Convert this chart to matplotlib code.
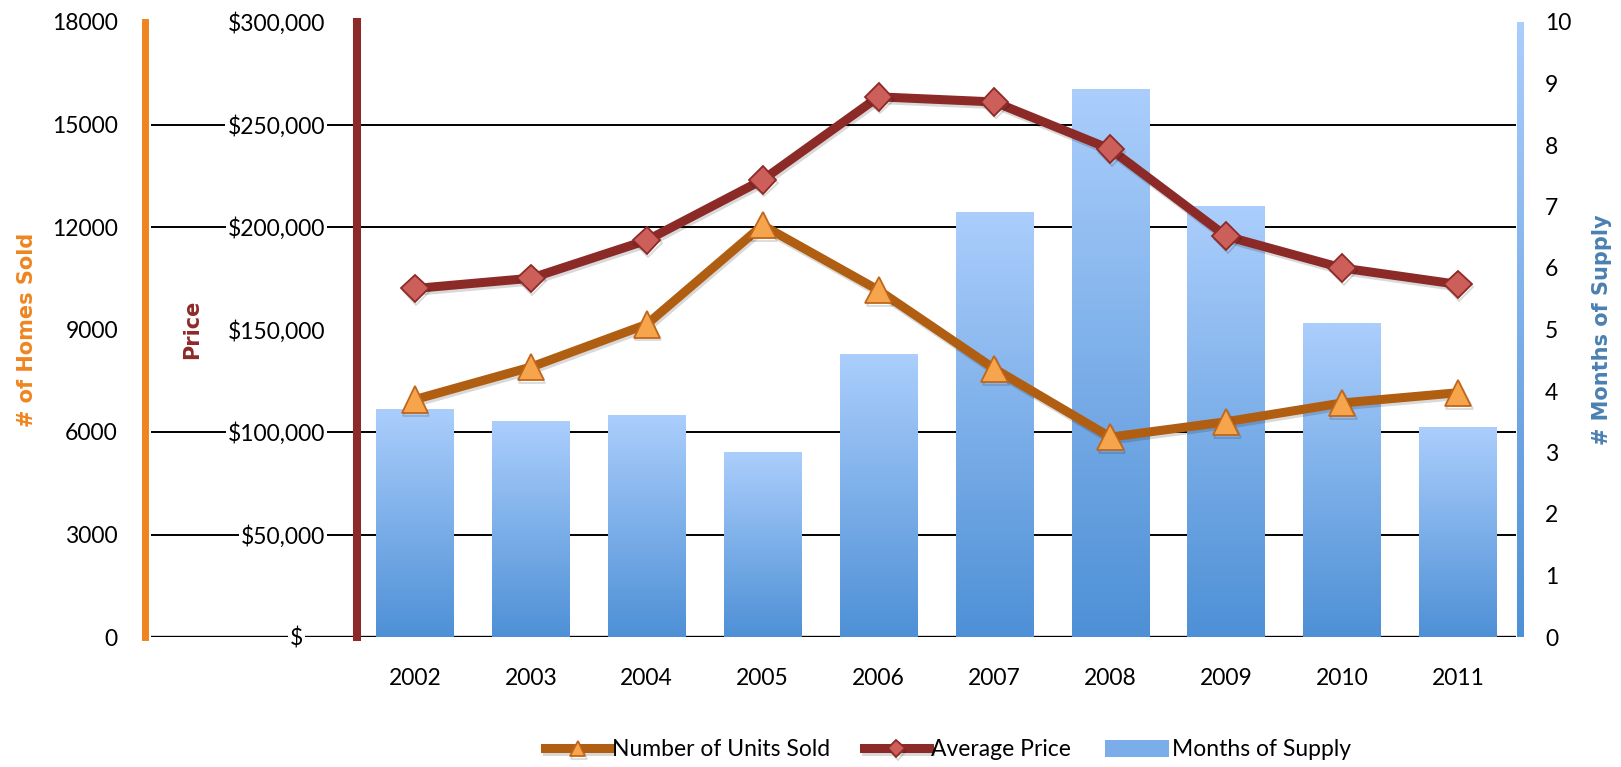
import matplotlib
matplotlib.use("Agg")
import matplotlib.pyplot as plt
import matplotlib.patheffects as pe
import numpy as np
from matplotlib.colors import LinearSegmentedColormap

plt.rcParams['font.family'] = ['Lato', 'DejaVu Sans']

years = ['2002', '2003', '2004', '2005', '2006', '2007', '2008', '2009', '2010', '2011']
units_sold = [6950, 7900, 9150, 12050, 10150, 7850, 5850, 6300, 6850, 7150]
avg_price = [170000, 175000, 193500, 223000, 263500, 261000, 238000, 195500, 180000, 172000]
months_supply = [3.7, 3.5, 3.6, 3.0, 4.6, 6.9, 8.9, 7.0, 5.1, 3.4]

units_ticks = np.arange(0, 18001, 3000)
price_ticks = np.arange(0, 300001, 50000)
price_labels = ['$'] + ['${:,}'.format(v) for v in price_ticks[1:]]
supply_ticks = np.arange(0, 11)

ORANGE = '#ef8520'
UNITS_LINE = '#b05e12'
DARK_RED = '#8c2a28'
BLUE_LABEL = '#4a80b2'
FS = 16.5
LABEL_FONT = dict(family='DejaVu Sans', fontweight='bold', fontsize=15)

fig = plt.figure(figsize=(16.21, 7.67), dpi=100)
ax_sup = fig.add_axes([151 / 1621, 130 / 767, 1365 / 1621, 615 / 767])
ax_units = ax_sup.twinx()
ax_price = ax_sup.twinx()

x = np.arange(len(years))
shadow = [pe.SimpleLineShadow(offset=(1, -2), shadow_color='black', alpha=0.15), pe.Normal()]

# months of supply: bars with a vertical gradient
supply_cmap = LinearSegmentedColormap.from_list('supply', ['#4e90d6', '#abcefc'])
grad = np.linspace(0, 1, 256).reshape(-1, 1)
bars = ax_sup.bar(x, months_supply, width=0.67, color='#7badeb', zorder=1,
                  label='Months of Supply')
for bar in bars:
    x0, w, h = bar.get_x(), bar.get_width(), bar.get_height()
    ax_sup.imshow(grad, extent=(x0, x0 + w, 0, h), origin='lower', aspect='auto',
                  cmap=supply_cmap, zorder=2)

# right axis bar drawn as a gradient strip
ax_sup.imshow(grad, extent=(1.0008, 1.0058, 0, 1), transform=ax_sup.transAxes,
              origin='lower', aspect='auto', cmap=supply_cmap, clip_on=False, zorder=3)

ax_sup.set_xlim(-2.277, 9.5)
ax_sup.set_ylim(0, 10)
ax_sup.yaxis.tick_right()
ax_sup.yaxis.set_label_position('right')
ax_sup.set_yticks(supply_ticks)
ax_sup.set_yticks(units_ticks / units_ticks[-1] * 10, minor=True)
ax_sup.grid(which='minor', axis='y', color='#000000', linewidth=1.4)
ax_sup.axhline(0, color='#000000', linewidth=2.4, zorder=0.6)
ax_sup.set_axisbelow(True)
ax_sup.tick_params(axis='y', which='both', length=0, pad=21, labelsize=FS)
ax_sup.set_xticks(x, years)
ax_sup.tick_params(axis='x', length=0, pad=22, labelsize=FS)
ax_sup.set_ylabel('# Months of Supply', color=BLUE_LABEL, va='center', **LABEL_FONT)
ax_sup.yaxis.set_label_coords((1602 - 151) / 1365, 0.5)

# number of units sold
ln_units, = ax_units.plot(x, units_sold, color=UNITS_LINE, linewidth=6.5, marker='^',
                          markersize=19, markerfacecolor='#f7a54c',
                          markeredgecolor='#c0661a', markeredgewidth=1.3,
                          label='Number of Units Sold', path_effects=shadow, zorder=3)
ax_units.set_ylim(0, 18000)
ax_units.yaxis.tick_left()
ax_units.yaxis.set_label_position('left')
ax_units.set_yticks(units_ticks)
ax_units.spines['left'].set_position(('outward', 4))
ax_units.spines['left'].set_color(ORANGE)
ax_units.spines['left'].set_linewidth(5)
ax_units.tick_params(axis='y', length=0, pad=19.8, labelsize=FS)
ax_units.set_ylabel('# of Homes Sold', color=ORANGE, va='center', **LABEL_FONT)
ax_units.yaxis.set_label_coords((27 - 151) / 1365, 0.5)

# average price
ln_price, = ax_price.plot(x, avg_price, color=DARK_RED, linewidth=6.5, marker='D',
                          markersize=14, markerfacecolor='#cd5f5a',
                          markeredgecolor=DARK_RED, markeredgewidth=1.3,
                          label='Average Price', path_effects=shadow, zorder=3)
ax_price.set_ylim(0, 300000)
ax_price.yaxis.tick_left()
ax_price.yaxis.set_label_position('left')
ax_price.set_yticks(price_ticks, price_labels)
ax_price.spines['left'].set_position(('data', -0.5))
ax_price.spines['left'].set_color(DARK_RED)
ax_price.spines['left'].set_linewidth(5.8)
ax_price.tick_params(axis='y', length=0, pad=23, labelsize=FS)
for lab in ax_price.get_yticklabels():
    lab.set_bbox(dict(facecolor='white', edgecolor='none', pad=1.5))
# the zero label sits a bit further left
ax_price.yaxis.get_major_ticks()[0].label1.set_x(-0.19)
ax_price.set_ylabel('Price', color=DARK_RED, va='center', **LABEL_FONT)
ax_price.yaxis.set_label_coords((192 - 151) / 1365, 0.5)

for a in (ax_sup, ax_units, ax_price):
    for side in ('top', 'bottom', 'right'):
        a.spines[side].set_visible(False)
ax_sup.spines['left'].set_visible(False)

fig.legend([ln_units, ln_price, bars],
           ['Number of Units Sold', 'Average Price', 'Months of Supply'],
           loc='center', bbox_to_anchor=(948 / 1621, 1 - 750 / 767), ncol=3,
           frameon=False, handlelength=2.8, handletextpad=0.1, columnspacing=1.5,
           markerscale=0.6, fontsize=FS)

fig.savefig('out.png', dpi=100)
